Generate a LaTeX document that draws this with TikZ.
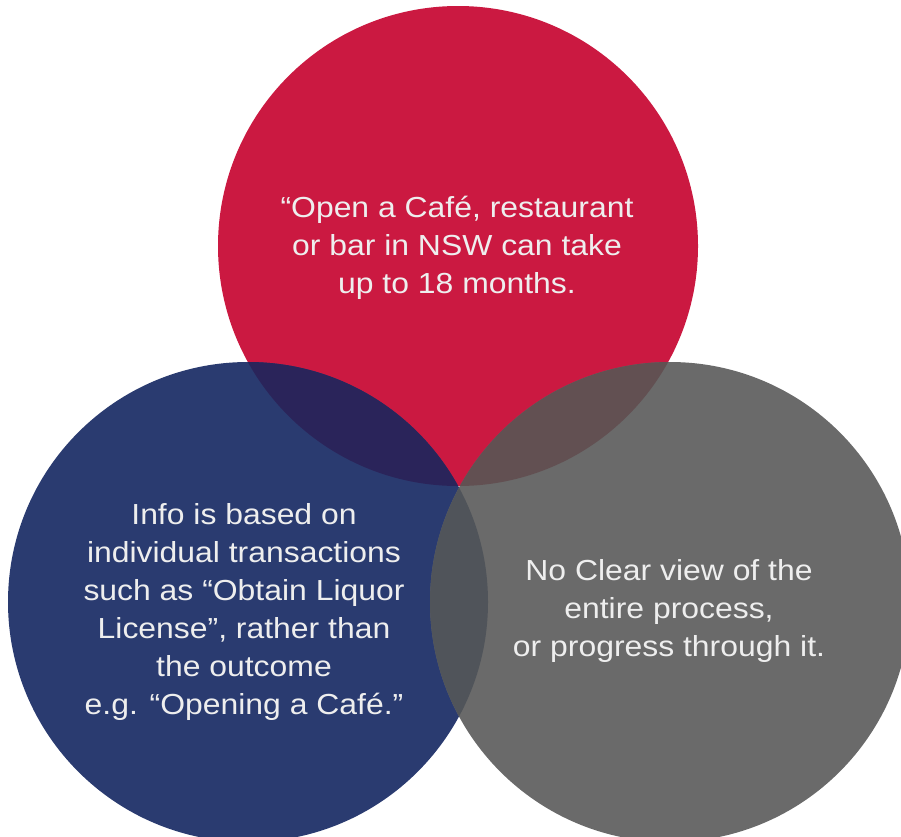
\documentclass[tikz,border=0pt]{standalone}
\usepackage{fontspec}
\setmainfont{Liberation Sans}[FakeStretch=1.1]

% circle fills and their pairwise overlaps
\definecolor{circRed}{HTML}{CB1941}
\definecolor{circBlue}{HTML}{2A3B70}
\definecolor{circGray}{HTML}{6A6A6A}
\definecolor{redBlue}{HTML}{2A245A}
\definecolor{redGray}{HTML}{625052}
\definecolor{blueGray}{HTML}{50545A}
\definecolor{txt}{HTML}{EEEEEE}

\begin{document}
\begin{tikzpicture}[x=1pt,y=-1pt,
  vtext/.style={text=txt, align=center, inner sep=0pt,
    font=\fontsize{29}{38}\selectfont}]
\useasboundingbox (0,0) rectangle (901,836);
\clip (0,0) rectangle (901,836);

% centres of the three circles
\coordinate (cR) at (458,246);
\coordinate (cB) at (248,602);
\coordinate (cG) at (670,602);

% the circles
\fill[circRed]  (cR) circle[radius=240];
\fill[circBlue] (cB) circle[radius=240];
\fill[circGray] (cG) circle[radius=240];

% overlaps
\begin{scope}
  \clip (cR) circle[radius=240];
  \fill[redBlue] (cB) circle[radius=240];
  \fill[redGray] (cG) circle[radius=240];
\end{scope}
\begin{scope}
  \clip (cB) circle[radius=240];
  \fill[blueGray] (cG) circle[radius=240];
\end{scope}

% texts
\node[vtext] (tR) at (457,248)
  {“Open a Café, restaurant\\or bar in NSW can take\\up to 18 months.};
\node[vtext] (tB) at (244,612)
  {Info is based on\\individual transactions\\such as “Obtain Liquor\\License”, rather than\\the outcome\\e.g. “Opening a Café.”};
\node[vtext] (tG) at (669,611)
  {No Clear view of the\\entire process,\\or progress through it.};
\end{tikzpicture}
\end{document}
